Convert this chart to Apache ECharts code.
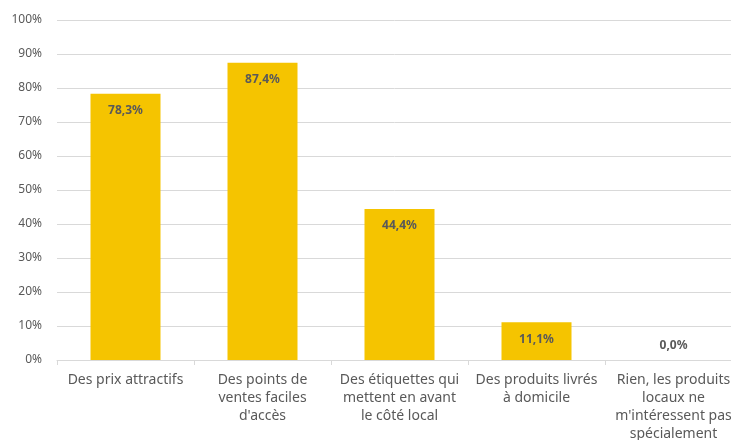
<!DOCTYPE html>
<html><head><meta charset="utf-8">
<script src="https://cdn.jsdelivr.net/npm/echarts@6/dist/echarts.min.js"></script>
<style>html,body{margin:0;padding:0;background:#fff}#c{width:731px;height:440px}</style>
</head><body><div id="c"></div>
<script>
const categories = ["Des prix attractifs", "Des points de\nventes faciles\nd'accès", "Des étiquettes qui\nmettent en avant\nle côté local", "Des produits livrés\nà domicile", "Rien, les produits\nlocaux ne\nm'intéressent pas\nspécialement"];
const values = [78.3, 87.4, 44.4, 11.1, 0.0];
const yTicks = {min: 0, max: 100, interval: 10};

const chart = echarts.init(document.getElementById('c'));
const fmt = v => v.toFixed(1).replace('.', ',') + '%';
chart.setOption({
  animation: false,
  grid: {left: 57, top: 20, right: -11, bottom: 80, containLabel: false, outerBoundsMode: 'none'},
  xAxis: {
    type: 'category', data: categories,
    axisLine: {lineStyle: {color: '#d9d9d9'}},
    axisTick: {show: true, length: 5, lineStyle: {color: '#d9d9d9'}},
    axisLabel: {color: '#595959', fontSize: 14, lineHeight: 18, margin: 11, interval: 0, fontFamily: 'Noto Sans'}
  },
  yAxis: {
    type: 'value', min: yTicks.min, max: yTicks.max, interval: yTicks.interval,
    axisLabel: {formatter: v => v + '%', color: '#595959', fontSize: 12, margin: 15, fontFamily: 'Noto Sans'},
    splitLine: {lineStyle: {color: '#d9d9d9'}},
    axisLine: {show: false}, axisTick: {show: false}
  },
  series: [{
    type: 'bar', barWidth: 70,
    itemStyle: {color: '#F5C400'},
    data: values.map(v => v === 0 ? {value: v, label: {position: 'top', distance: 8}} : v),
    label: {show: true, position: 'insideTop', distance: 11, formatter: p => fmt(p.value),
      color: '#595959', fontWeight: 'bold', fontSize: 12, fontFamily: 'Noto Sans'}
  }]
});
</script></body></html>
